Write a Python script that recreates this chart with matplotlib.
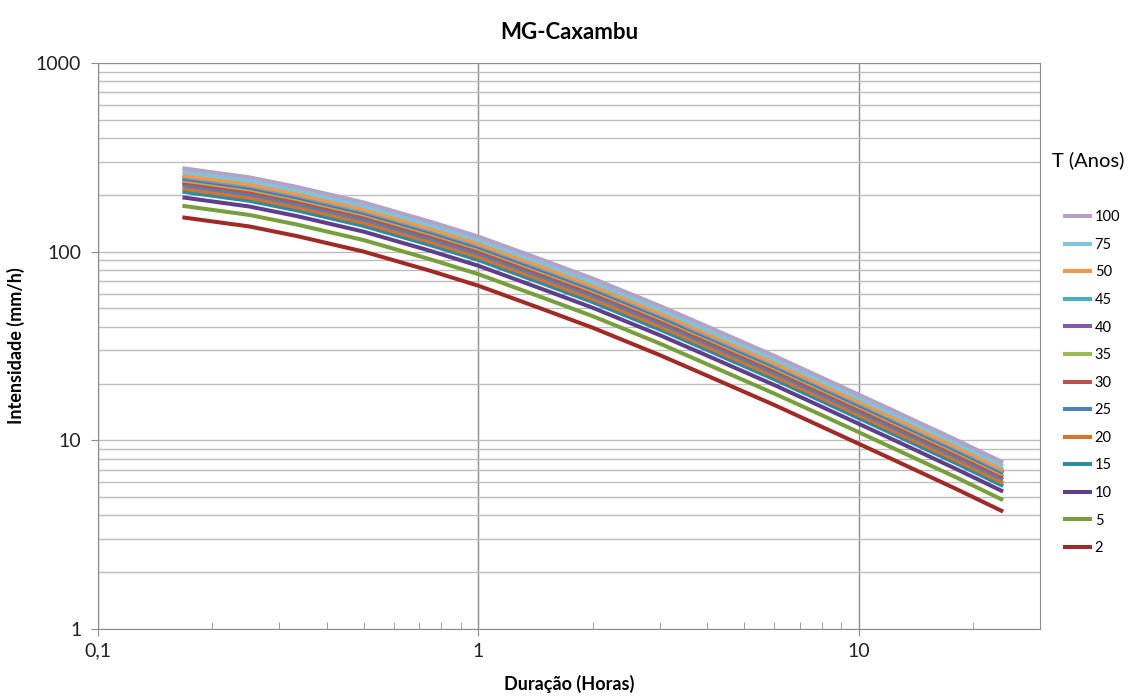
import matplotlib
matplotlib.use("Agg")
import matplotlib.pyplot as plt
from matplotlib.ticker import FixedLocator, FuncFormatter, NullFormatter

plt.rcParams['font.family'] = ['Lato', 'DejaVu Sans']

# duracao em horas
duracao = [0.1667, 0.25, 0.333, 0.5, 0.75, 1, 1.5, 2, 3, 4, 6, 8, 12, 18, 24]

# intensidade (mm/h) por periodo de retorno
t2 = [152, 136, 121, 100, 79.0, 66.0, 49.0, 39.5, 28.3, 22.0, 15.4, 11.8, 8.10, 5.54, 4.19]
t5 = [175, 156.5, 139.3, 115.1, 90.9, 76.0, 56.4, 45.5, 32.6, 25.3, 17.7, 13.6, 9.32, 6.38, 4.82]
t10 = [194, 173.5, 154.4, 127.6, 100.8, 84.2, 62.5, 50.4, 36.1, 28.1, 19.65, 15.06, 10.34, 7.07, 5.35]
t15 = [208, 186.0, 165.5, 136.8, 108.1, 90.3, 67.0, 54.0, 38.7, 30.1, 21.07, 16.14, 11.08, 7.58, 5.73]
t20 = [216, 193.3, 171.9, 142.1, 112.3, 93.8, 69.6, 56.1, 40.2, 31.3, 21.88, 16.77, 11.51, 7.87, 5.95]
t25 = [225, 201.3, 179.1, 148.0, 116.9, 97.7, 72.5, 58.5, 41.9, 32.6, 22.79, 17.46, 11.99, 8.20, 6.20]
t30 = [232, 207.5, 184.6, 152.6, 120.6, 100.7, 74.8, 60.3, 43.2, 33.6, 23.50, 18.01, 12.36, 8.45, 6.39]
t35 = [239, 213.8, 190.2, 157.2, 124.2, 103.8, 77.0, 62.1, 44.5, 34.6, 24.21, 18.55, 12.73, 8.71, 6.59]
t40 = [244, 218.3, 194.2, 160.5, 126.8, 105.9, 78.6, 63.4, 45.4, 35.3, 24.72, 18.94, 13.00, 8.89, 6.72]
t45 = [249, 222.8, 198.2, 163.8, 129.4, 108.1, 80.3, 64.7, 46.4, 36.0, 25.23, 19.33, 13.27, 9.07, 6.86]
t50 = [254, 227.3, 202.2, 167.1, 132.0, 110.3, 81.9, 66.0, 47.3, 36.8, 25.73, 19.72, 13.54, 9.26, 7.00]
t75 = [265, 237.0, 210.9, 174.3, 137.7, 115.0, 85.4, 68.8, 49.3, 38.3, 26.84, 20.57, 14.12, 9.66, 7.30]
t100 = [277, 247.8, 220.5, 182.2, 143.9, 120.3, 89.3, 72.0, 51.6, 40.1, 28.06, 21.50, 14.76, 10.09, 7.63]

labels = ['2', '5', '10', '15', '20', '25', '30', '35', '40', '45', '50', '75', '100']
series = [t2, t5, t10, t15, t20, t25, t30, t35, t40, t45, t50, t75, t100]
colors = ['#A02B26', '#77A03C', '#5F3F8C', '#2E8BA2', '#D7732A', '#4F81BD',
          '#C0504D', '#9BBB59', '#7F5BA8', '#4BACC6', '#F79646', '#7EC4DC', '#B3A2C7']

fig = plt.figure(figsize=(11.37, 6.96), dpi=100)
ax = fig.add_axes([0.0862, 0.0963, 0.8285, 0.8132])

lines = []
for lab, vals, c in zip(labels, series, colors):
    ln, = ax.plot(duracao, vals, color=c, lw=2.9, label=lab, solid_capstyle='butt')
    lines.append(ln)

ax.set_xscale('log')
ax.set_yscale('log')
ax.set_xlim(0.1, 30)
ax.set_ylim(1, 1000)

ax.xaxis.set_major_locator(FixedLocator([0.1, 1, 10]))
ax.xaxis.set_major_formatter(FuncFormatter(lambda v, p: ('%g' % v).replace('.', ',')))
ax.xaxis.set_minor_locator(FixedLocator([0.2, 0.3, 0.4, 0.5, 0.6, 0.7, 0.8, 0.9,
                                         2, 3, 4, 5, 6, 7, 8, 9, 20]))
ax.xaxis.set_minor_formatter(NullFormatter())
ax.yaxis.set_major_locator(FixedLocator([1, 10, 100, 1000]))
ax.yaxis.set_major_formatter(FuncFormatter(lambda v, p: '%d' % v))
ax.yaxis.set_minor_locator(FixedLocator([m * d for d in (1, 10, 100) for m in range(2, 10)]))
ax.yaxis.set_minor_formatter(NullFormatter())

ax.grid(True, which='major', axis='x', color='#8C8C8C', lw=1)
ax.grid(True, which='major', axis='y', color='#BDBDBD', lw=1)
ax.grid(True, which='minor', axis='y', color='#BDBDBD', lw=1)
ax.set_axisbelow(True)

for s in ax.spines.values():
    s.set_color('#8C8C8C')
ax.tick_params(axis='both', which='major', length=5, color='#8C8C8C',
               labelsize=14, labelcolor='#222222', pad=5)
ax.tick_params(axis='y', which='major', pad=7)
ax.tick_params(axis='x', which='minor', direction='in', length=5, color='#8C8C8C')
ax.tick_params(axis='y', which='minor', length=0)

ax.set_title('MG-Caxambu', fontsize=16, fontweight='bold', pad=17)
ax.set_xlabel('Duração (Horas)', fontsize=13, fontweight='bold', labelpad=11)
ax.set_ylabel('Intensidade (mm/h)', fontsize=13, fontweight='bold', labelpad=8)

leg = ax.legend(lines[::-1], labels[::-1], loc='upper left', bbox_to_anchor=(1.0185, 0.75),
                frameon=False, fontsize=10.5, handlelength=2.0, handletextpad=0.15,
                labelspacing=0.93, borderaxespad=0)
fig.text(0.957, 0.77, 'T (Anos)', fontsize=14.5, ha='center', va='center')

fig.savefig('out.png', dpi=100)
